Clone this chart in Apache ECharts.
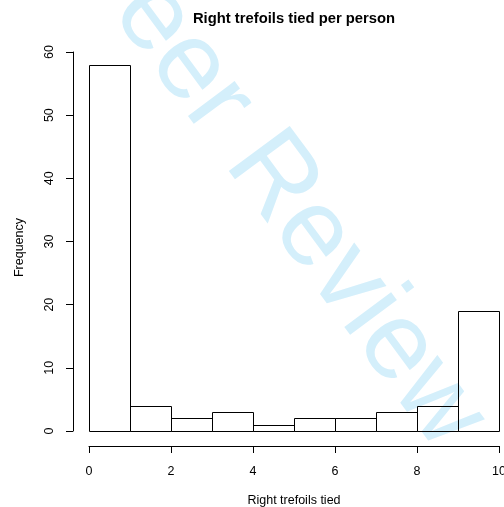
<!DOCTYPE html>
<html>
<head>
<meta charset="utf-8">
<script src="https://cdn.jsdelivr.net/npm/echarts@6/dist/echarts.min.js"></script>
<style>
html,body{margin:0;padding:0;background:#fff;}
#chart{width:504px;height:507px;}
</style>
</head>
<body>
<div id="chart"></div>
<script>
// Histogram data (bin edges and counts)
var binStarts = [0, 1, 2, 3, 4, 5, 6, 7, 8, 9];
var binEnds   = [1, 2, 3, 4, 5, 6, 7, 8, 9, 10];
var counts    = [58, 4, 2, 3, 1, 2, 2, 3, 4, 19];
var xTicks = [0, 2, 4, 6, 8, 10];
var yTicks = [0, 10, 20, 30, 40, 50, 60];
var titleText = 'Right trefoils tied per person';
var xLabel = 'Right trefoils tied';
var yLabel = 'Frequency';
var watermarkText = 'Peer Review';

var data = binStarts.map(function (s, i) { return [s, binEnds[i], counts[i]]; });

var chart = echarts.init(document.getElementById('chart'), null, {renderer: 'canvas'});
var FONT = 'Liberation Sans, Arial, Helvetica, sans-serif';

chart.setOption({
  animation: false,
  backgroundColor: '#ffffff',
  title: {
    text: titleText,
    left: 289, top: 6, textAlign: 'center',
    textStyle: {fontFamily: FONT, fontSize: 14.8, fontWeight: 'bold', color: '#000'}
  },
  graphic: [{
    type: 'text',
    z: -10, zlevel: 0,
    x: 277, y: 185,
    rotation: -53.5 * Math.PI / 180,
    style: {
      text: watermarkText,
      fontFamily: FONT,
      fontSize: 110,
      fill: 'rgb(212,239,251)',
      align: 'center',
      verticalAlign: 'middle'
    }
  }],
  grid: {left: 89, right: 5, top: 52, bottom: 76, containLabel: false, outerBoundsMode: 'none'},
  xAxis: {
    type: 'value', min: xTicks[0], max: xTicks[xTicks.length - 1], interval: 2,
    offset: 15,
    name: xLabel, nameLocation: 'middle', nameGap: 48,
    nameTextStyle: {fontFamily: FONT, fontSize: 12.5, color: '#000'},
    axisLine: {show: true, onZero: false, lineStyle: {color: '#000', width: 1}},
    axisTick: {show: true, length: 7, lineStyle: {color: '#000'}},
    axisLabel: {fontFamily: FONT, fontSize: 12.5, color: '#000', margin: 19, showMaxLabel: true, showMinLabel: true, hideOverlap: false},
    splitLine: {show: false}
  },
  yAxis: {
    type: 'value', min: yTicks[0], max: yTicks[yTicks.length - 1], interval: 10,
    offset: 16,
    name: yLabel, nameLocation: 'middle', nameGap: 47, nameRotate: 90,
    nameTextStyle: {fontFamily: FONT, fontSize: 12.5, color: '#000', padding: [0, 12, 0, 0]},
    axisLine: {show: true, onZero: false, lineStyle: {color: '#000', width: 1}},
    axisTick: {show: true, length: 7, lineStyle: {color: '#000'}},
    axisLabel: {fontFamily: FONT, fontSize: 12.5, color: '#000', margin: 17, rotate: 90},
    splitLine: {show: false}
  },
  series: [{
    type: 'custom',
    data: data,
    encode: {x: [0, 1], y: 2},
    renderItem: function (params, api) {
      var p0 = api.coord([api.value(0), api.value(2)]);
      var p1 = api.coord([api.value(1), 0]);
      var x = Math.round(p0[0]) + 0.5, y = Math.round(p0[1]) + 0.5;
      var x2 = Math.round(p1[0]) + 0.5, y2 = Math.round(p1[1]) + 0.5;
      return {
        type: 'rect',
        shape: {x: x, y: y, width: x2 - x, height: y2 - y},
        style: {fill: 'none', stroke: '#000', lineWidth: 1}
      };
    }
  }]
});
</script>
</body>
</html>
